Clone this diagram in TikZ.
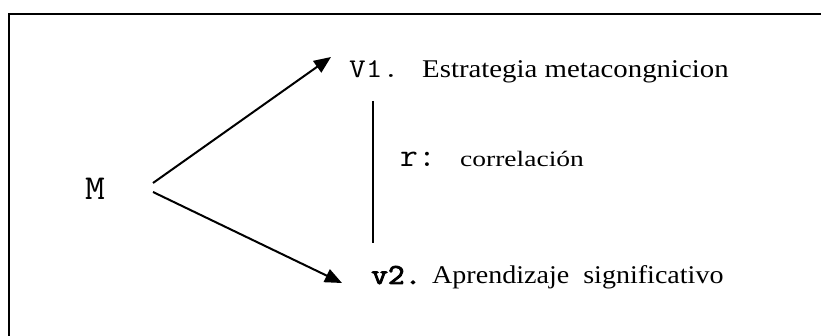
\documentclass[tikz,border=0pt]{standalone}
\usepackage{fontspec}
\setmainfont{Liberation Serif}
\setmonofont{Latin Modern Mono}
\newfontfamily\monobold{Latin Modern Mono}[FakeBold=3]
\usetikzlibrary{arrows.meta}
\newcommand{\hstr}[2]{\scalebox{#1}[1]{#2}}
\tikzset{
  txt/.style={inner sep=0pt, anchor=base west},
  arr/.style={line width=2pt, -{Triangle[length=17pt,width=14pt]}},
  frame/.style={line width=2.5pt}
}
\begin{document}
\begin{tikzpicture}[x=1pt,y=-1pt]
\useasboundingbox (0,0) rectangle (821,336);
% frame (top and left only, rest cropped)
\draw[frame] (9,340) -- (9,14) -- (825,14);
% nodes
\node[txt, font=\fontsize{35}{38}\selectfont\ttfamily] (M) at (85,200) {\hstr{1.1}{M}};
\node[txt, font=\fontsize{27}{30}\selectfont\ttfamily] (v1) at (349,78) {\hstr{1.2}{V1.}};
\node[txt, font=\fontsize{25.5}{28}\selectfont] (v1t) at (422,78) {\hstr{1.13}{Estrategia metacongnicion}};
\node[txt, font=\fontsize{33}{36}\selectfont\ttfamily] (r) at (400,167) {\hstr{1.05}{r:}};
\node[txt, font=\fontsize{22}{26}\selectfont] (rt) at (460,167) {\hstr{1.25}{correlación}};
\node[txt, font=\fontsize{29}{32}\selectfont\monobold] (v2) at (371,284) {\hstr{1.12}{v2.}};
\node[txt, font=\fontsize{25.5}{28}\selectfont] (v2t) at (432,284) {\hstr{1.1}{Aprendizaje\ \ significativo}};
% connector end points
\coordinate (s1) at (153,183);
\coordinate (e1) at (331,57);
\coordinate (s2) at (153,192);
\coordinate (e2) at (342,283);
\coordinate (ls) at (373,101);
\coordinate (le) at (373,243);
\draw[arr] (s1) -- (e1);
\draw[arr] (s2) -- (e2);
\draw[line width=2pt] (ls) -- (le);
\end{tikzpicture}
\end{document}
